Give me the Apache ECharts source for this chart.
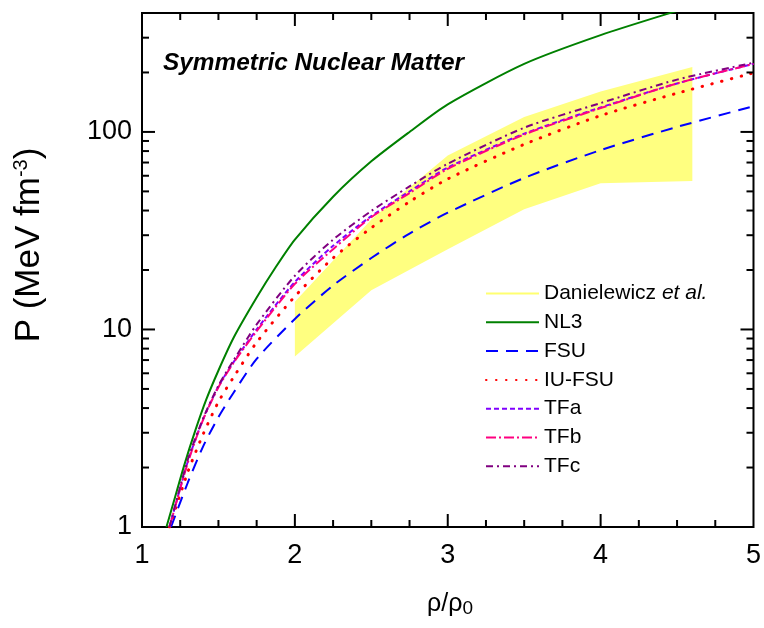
<!DOCTYPE html>
<html><head><meta charset="utf-8">
<script src="https://cdn.jsdelivr.net/npm/echarts@6/dist/echarts.min.js"></script>
<style>html,body{margin:0;padding:0;background:#fff}#c{width:764px;height:628px}</style>
</head><body><div id="c"></div>
<script>
// ---- data ----
const nl3X = [1.16,1.2,1.28,1.35,1.42,1.5,1.6,1.75,1.87,2.0,2.25,2.5,2.75,3.0,3.5,4.0,4.5,5.0];
const nl3P = [1.0,1.28,2.1,3.1,4.41,6.2,9.1,14.5,20.4,28.5,47,71,100,138,221,309,410,540];

const fsuX = [1.19,1.3,1.4,1.5,1.6,1.75,2.0,2.25,2.5,2.75,3.0,3.5,4.0,4.5,5.0];
const fsuP = [1.0,1.68,2.56,3.6,4.8,7.1,11.3,16.7,23,30.6,39,58.5,80.9,106,135];

const iuX = [1.18,1.3,1.4,1.5,1.6,1.75,2.0,2.25,2.5,2.75,3.0,3.5,4.0,4.5,5.0];
const iuP = [1.0,1.9,2.95,4.3,5.75,8.6,14.7,23,32.7,44.3,57.8,86.5,121,157,199];

const tfX = [1.18,1.3,1.4,1.5,1.6,1.75,2.0,2.25,2.5,2.75,3.0,3.5,4.0,4.5,5.0];
const tfaP = [1.0,2.15,3.52,5.15,6.85,10.0,17.4,26.5,37.5,50,66,98,133,176,221];
const tfbP = [1.0,2.12,3.5,5.1,6.8,9.8,17,25.5,37,49,65,97,132,176,221];
const tfcP = [1.0,2.2,3.55,5.2,7.0,10.6,18.7,28.5,39.8,53,69,105,140,184,224];

const bandX = [2.0,2.5,3.0,3.5,4.0,4.6];
const bandLow = [7.3,15.8,25.5,40.6,55,56.5];
const bandHigh = [13.8,36,76,119,160,213];

const xTickLabels = [1,2,3,4,5];
const yTickLabels = [1,10,100];
const xMinorTicks = [1.25,1.5,1.75,2.25,2.5,2.75,3.25,3.5,3.75,4.25,4.5,4.75];
const xMajorTicks = [2,3,4];
const yMajorTicks = [10,100];
const yMinorTicks = [2,3,4,5,6,7,8,9,20,30,40,50,60,70,80,90,200,300];

const FONT = '"Liberation Sans", Arial, sans-serif';

const pairs = (xs, ys) => xs.map((x, i) => [x, ys[i]]);

const ticks = [];
xMajorTicks.forEach(v => ticks.push({a:'x', v, len:13}));
xMinorTicks.forEach(v => ticks.push({a:'x', v, len:7}));
yMajorTicks.forEach(v => ticks.push({a:'y', v, len:13}));
yMinorTicks.forEach(v => ticks.push({a:'y', v, len:7}));

function lineSeries(name, xs, ys, color, type, width, cap) {
  return {
    name, type:'line', data:pairs(xs, ys), showSymbol:false, symbol:'none',
    smooth:0.25, z:3, clip:true,
    lineStyle:{color, width:width||2, type, cap:cap||'butt'},
    itemStyle:{color}
  };
}

const chart = echarts.init(document.getElementById('c'), null, {renderer:'canvas'});
chart.setOption({
  animation:false,
  backgroundColor:'#fff',
  grid:{left:142, right:9, top:13, bottom:101, show:true, borderColor:'#000', borderWidth:2, backgroundColor:'transparent'},
  xAxis:{type:'value', min:1, max:5, interval:1,
    axisLine:{show:false}, axisTick:{show:false}, splitLine:{show:false},
    axisLabel:{fontSize:27, color:'#000', fontFamily:FONT, margin:15,
      formatter: v => xTickLabels.includes(v) ? String(v) : ''}},
  yAxis:{type:'log', logBase:10, min:1, max:400,
    axisLine:{show:false}, axisTick:{show:false}, splitLine:{show:false}, minorTick:{show:false},
    axisLabel:{fontSize:27, color:'#000', fontFamily:FONT, margin:10, showMaxLabel:false,
      formatter: v => { const m = yTickLabels.find(t => Math.abs(t - v) < 1e-6 * t); return m ? String(m) : ''; }}},
  legend:{
    orient:'vertical', left:485, top:283, padding:0, itemWidth:53, itemHeight:14, itemGap:7.8,
    selectedMode:false, symbolKeepAspect:true,
    itemStyle:{opacity:0},
    textStyle:{fontSize:21, color:'#000', fontFamily:FONT, lineHeight:20,
      rich:{i:{fontStyle:'italic', fontSize:21, fontFamily:FONT, color:'#000', lineHeight:20}}},
    formatter: n => n === 'Danielewicz et al.' ? 'Danielewicz {i|et al.}' : n,
    data:[
      {name:'Danielewicz et al.', icon:'path://M0,0H53V2H0Z', itemStyle:{color:'#ffff70', opacity:1}},
      'NL3','FSU','IU-FSU','TFa','TFb','TFc']
  },
  graphic:[
    {type:'text', left:163, top:51, z:10,
      style:{text:'Symmetric Nuclear Matter', fontSize:24.4, fontWeight:'bold', fontStyle:'italic', fontFamily:FONT, fill:'#000'}},
    {type:'text', x:29, y:245, rotation:Math.PI/2, z:10,
      style:{text:'P (MeV fm{s|-3})', align:'center', verticalAlign:'middle', fontSize:35, fontFamily:FONT, fill:'#000',
        rich:{s:{fontSize:20, fontFamily:FONT, verticalAlign:'top', fill:'#000'}}}},
    {type:'text', x:450, y:604, z:10,
      style:{text:'ρ/ρ{s|0}', align:'center', verticalAlign:'middle', fontSize:25, fontFamily:FONT, fill:'#000',
        rich:{s:{fontSize:19, fontFamily:FONT, verticalAlign:'bottom', fill:'#000', padding:[10,0,0,0]}}}}
  ],
  series:[
    {name:'Danielewicz et al.', type:'custom', z:1, silent:true,
      itemStyle:{color:'#ffff80'},
      data:[[bandX[0], bandLow[0]]],
      renderItem:(params, api) => {
        const pts = [];
        for (let i = 0; i < bandX.length; i++) pts.push(api.coord([bandX[i], bandHigh[i]]));
        for (let i = bandX.length - 1; i >= 0; i--) pts.push(api.coord([bandX[i], bandLow[i]]));
        return {type:'polygon', shape:{points:pts}, style:{fill:'#ffff80'}};
      }},
    lineSeries('NL3', nl3X, nl3P, '#008000', 'solid', 2),
    lineSeries('FSU', fsuX, fsuP, '#0000ff', [12,8], 2),
    lineSeries('IU-FSU', iuX, iuP, '#ff0000', [0.5,9.5], 3, 'round'),
    lineSeries('TFa', tfX, tfaP, '#8000ff', [5,3], 2),
    lineSeries('TFb', tfX, tfbP, '#ff0080', [10,3,2,3], 2),
    lineSeries('TFc', tfX, tfcP, '#800080', [7,4,2,4], 2),
    {name:'ticks', type:'custom', z:5, silent:true,
      data: ticks.map(t => t.a === 'x' ? [t.v, 1] : [1, t.v]),
      renderItem:(params, api) => {
        const t = ticks[params.dataIndex];
        const cs = params.coordSys;
        const st = {stroke:'#000', lineWidth:2};
        if (t.a === 'x') {
          const px = api.coord([t.v, 1])[0];
          const yb = cs.y + cs.height, yt = cs.y;
          return {type:'group', children:[
            {type:'line', shape:{x1:px, y1:yb, x2:px, y2:yb - t.len}, style:st},
            {type:'line', shape:{x1:px, y1:yt, x2:px, y2:yt + t.len}, style:st}]};
        }
        const py = api.coord([1, t.v])[1];
        const xl = cs.x, xr = cs.x + cs.width;
        return {type:'group', children:[
          {type:'line', shape:{x1:xl, y1:py, x2:xl + t.len, y2:py}, style:st},
          {type:'line', shape:{x1:xr, y1:py, x2:xr - t.len, y2:py}, style:st}]};
      }}
  ]
});
</script>
</body></html>
